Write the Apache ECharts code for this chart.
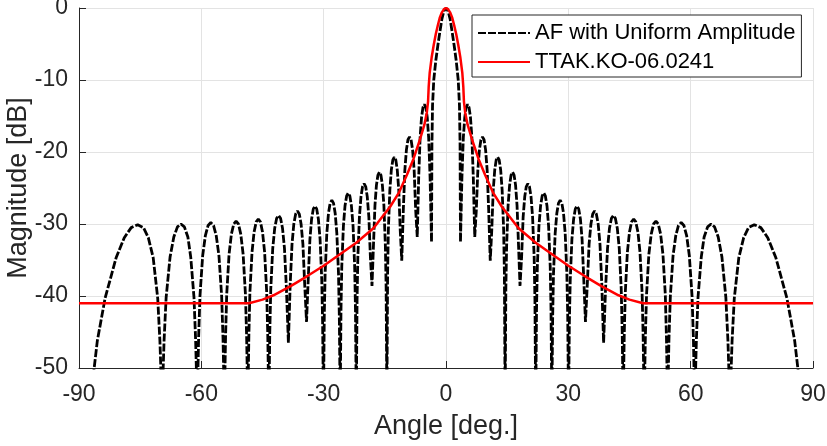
<!DOCTYPE html>
<html>
<head>
<meta charset="utf-8">
<script src="https://cdn.jsdelivr.net/npm/echarts@6/dist/echarts.min.js"></script>
<style>html,body{margin:0;padding:0;background:#fff}#c{width:827px;height:446px}</style>
</head>
<body>
<div id="c"></div>
<script>
// Ticks
const xTicks = [-90, -60, -30, 0, 30, 60, 90];
const yTicks = [-50, -40, -30, -20, -10, 0];
const seriesNames = ['AF with Uniform Amplitude', 'TTAK.KO-06.0241'];

// AF with uniform amplitude: [angle deg, magnitude dB]
const afPoints = [
[-87.1,-54],[-85.5,-46.2],[-83.6,-40.3],[-80.9,-34.7],[-78.9,-31.9],[-77.2,-30.5],[-75.6,-30.1],[-74.2,-30.5],[-73.0,-31.9],[-71.8,-34.7],[-70.7,-40.3],[-70.16,-46.2],[-69.64,-55],
[-69.13,-46.1],[-68.63,-40.2],[-67.67,-34.6],[-66.75,-31.8],[-65.86,-30.4],[-65.0,-30.0],[-64.16,-30.4],[-63.3,-31.8],[-62.6,-34.6],[-61.8,-40.2],[-61.4,-46.1],[-61.0,-55],
[-60.67,-45.9],[-60.34,-40.0],[-59.67,-34.4],[-59.01,-31.6],[-58.34,-30.2],[-57.68,-29.8],[-57.01,-30.2],[-56.35,-31.6],[-55.68,-34.4],[-55.02,-40.0],[-54.68,-45.9],[-54.35,-55],
[-54.06,-45.7],[-53.78,-39.8],[-53.2,-34.2],[-52.63,-31.4],[-52.05,-30.0],[-51.48,-29.6],[-50.9,-30.0],[-50.33,-31.4],[-49.75,-34.2],[-49.18,-39.8],[-48.89,-45.7],[-48.6,-55],
[-48.34,-45.4],[-48.09,-39.5],[-47.57,-33.9],[-47.06,-31.1],[-46.54,-29.7],[-46.03,-29.3],[-45.51,-29.7],[-45.0,-31.1],[-44.48,-33.9],[-43.97,-39.5],[-43.71,-45.4],[-43.45,-55],
[-43.21,-44.9],[-42.97,-39.0],[-42.49,-33.4],[-42.01,-30.6],[-41.53,-29.2],[-41.05,-28.8],[-40.57,-29.2],[-40.09,-30.6],[-39.61,-33.4],[-39.13,-39.0],[-38.65,-46.5],
[-38.21,-38.4],[-37.76,-32.8],[-37.32,-30.0],[-36.87,-28.6],[-36.43,-28.2],[-35.98,-28.6],[-35.54,-30.0],[-35.09,-32.8],[-34.65,-38.4],[-34.2,-43.6],
[-33.79,-37.7],[-33.37,-32.1],[-32.96,-29.3],[-32.54,-27.9],[-32.13,-27.5],[-31.71,-27.9],[-31.3,-29.3],[-30.88,-32.1],[-30.47,-37.7],[-30.26,-43.6],[-30.05,-55],
[-29.85,-42.8],[-29.64,-36.9],[-29.23,-31.3],[-28.82,-28.5],[-28.41,-27.1],[-28.0,-26.7],[-27.59,-27.1],[-27.18,-28.5],[-26.77,-31.3],[-26.36,-36.9],[-26.16,-42.8],[-25.95,-55],
[-25.75,-41.8],[-25.56,-35.9],[-25.16,-30.3],[-24.77,-27.5],[-24.37,-26.1],[-23.98,-25.7],[-23.58,-26.1],[-23.19,-27.5],[-22.79,-30.3],[-22.4,-35.9],[-22.2,-41.8],[-22.0,-55],
[-21.81,-40.5],[-21.62,-34.6],[-21.23,-29.0],[-20.85,-26.2],[-20.46,-24.8],[-20.08,-24.4],[-19.69,-24.8],[-19.31,-26.2],[-18.92,-29.0],[-18.54,-34.6],[-18.15,-38.6],
[-17.79,-33.0],[-17.42,-27.4],[-17.06,-24.6],[-16.69,-23.2],[-16.33,-22.8],[-15.96,-23.2],[-15.6,-24.6],[-15.23,-27.4],[-14.87,-33.0],[-14.68,-38.9],[-14.5,-55],
[-14.32,-36.8],[-14.14,-30.9],[-13.77,-25.3],[-13.41,-22.5],[-13.04,-21.1],[-12.68,-20.7],[-12.31,-21.1],[-11.95,-22.5],[-11.58,-25.3],[-11.22,-30.9],[-10.85,-35.1],
[-10.47,-28.1],[-10.09,-22.5],[-9.71,-19.7],[-9.33,-18.3],[-8.95,-17.9],[-8.57,-18.3],[-8.19,-19.7],[-7.81,-22.5],[-7.43,-28.1],[-7.05,-31.8],
[-6.7,-23.6],[-6.35,-18.0],[-6.0,-15.2],[-5.65,-13.8],[-5.3,-13.4],[-4.95,-13.8],[-4.6,-15.2],[-4.25,-18.0],[-3.9,-23.6],[-3.55,-32.5],
[-3.45,-19],[-3.3,-13.5],[-3.0,-10],[-2.5,-7.3],[-2.0,-5.2],[-1.5,-3.3],[-1.0,-1.5],[-0.5,-0.4],[0,0],
[0.5,-0.4],[1.0,-1.5],[1.5,-3.3],[2.0,-5.2],[2.5,-7.3],[3.0,-10],[3.3,-13.5],[3.45,-19],[3.55,-32.5],
[3.9,-23.6],[4.25,-18.0],[4.6,-15.2],[4.95,-13.8],[5.3,-13.4],[5.65,-13.8],[6.0,-15.2],[6.35,-18.0],[6.7,-23.6],[7.05,-31.8],
[7.43,-28.1],[7.81,-22.5],[8.19,-19.7],[8.57,-18.3],[8.95,-17.9],[9.33,-18.3],[9.71,-19.7],[10.09,-22.5],[10.47,-28.1],[10.85,-35.1],
[11.22,-30.9],[11.58,-25.3],[11.95,-22.5],[12.31,-21.1],[12.68,-20.7],[13.04,-21.1],[13.41,-22.5],[13.77,-25.3],[14.14,-30.9],[14.32,-36.8],[14.5,-55],
[14.68,-38.9],[14.87,-33.0],[15.23,-27.4],[15.6,-24.6],[15.96,-23.2],[16.33,-22.8],[16.69,-23.2],[17.06,-24.6],[17.42,-27.4],[17.79,-33.0],[18.15,-38.6],
[18.54,-34.6],[18.92,-29.0],[19.31,-26.2],[19.69,-24.8],[20.08,-24.4],[20.46,-24.8],[20.85,-26.2],[21.23,-29.0],[21.62,-34.6],[21.81,-40.5],[22.0,-55],
[22.2,-41.8],[22.4,-35.9],[22.79,-30.3],[23.19,-27.5],[23.58,-26.1],[23.98,-25.7],[24.37,-26.1],[24.77,-27.5],[25.16,-30.3],[25.56,-35.9],[25.75,-41.8],[25.95,-55],
[26.16,-42.8],[26.36,-36.9],[26.77,-31.3],[27.18,-28.5],[27.59,-27.1],[28.0,-26.7],[28.41,-27.1],[28.82,-28.5],[29.23,-31.3],[29.64,-36.9],[29.85,-42.8],[30.05,-55],
[30.26,-43.6],[30.47,-37.7],[30.88,-32.1],[31.3,-29.3],[31.71,-27.9],[32.13,-27.5],[32.54,-27.9],[32.96,-29.3],[33.37,-32.1],[33.79,-37.7],[34.2,-43.6],
[34.65,-38.4],[35.09,-32.8],[35.54,-30.0],[35.98,-28.6],[36.43,-28.2],[36.87,-28.6],[37.32,-30.0],[37.76,-32.8],[38.21,-38.4],[38.65,-46.5],
[39.13,-39.0],[39.61,-33.4],[40.09,-30.6],[40.57,-29.2],[41.05,-28.8],[41.53,-29.2],[42.01,-30.6],[42.49,-33.4],[42.97,-39.0],[43.21,-44.9],[43.45,-55],
[43.71,-45.4],[43.97,-39.5],[44.48,-33.9],[45.0,-31.1],[45.51,-29.7],[46.03,-29.3],[46.54,-29.7],[47.06,-31.1],[47.57,-33.9],[48.09,-39.5],[48.34,-45.4],[48.6,-55],
[48.89,-45.7],[49.18,-39.8],[49.75,-34.2],[50.33,-31.4],[50.9,-30.0],[51.48,-29.6],[52.05,-30.0],[52.63,-31.4],[53.2,-34.2],[53.78,-39.8],[54.06,-45.7],[54.35,-55],
[54.68,-45.9],[55.02,-40.0],[55.68,-34.4],[56.35,-31.6],[57.01,-30.2],[57.68,-29.8],[58.34,-30.2],[59.01,-31.6],[59.67,-34.4],[60.34,-40.0],[60.67,-45.9],[61.0,-55],
[61.4,-46.1],[61.8,-40.2],[62.6,-34.6],[63.3,-31.8],[64.16,-30.4],[65.0,-30.0],[65.86,-30.4],[66.75,-31.8],[67.67,-34.6],[68.63,-40.2],[69.13,-46.1],[69.64,-55],
[70.16,-46.2],[70.7,-40.3],[71.8,-34.7],[73.0,-31.9],[74.2,-30.5],[75.6,-30.1],[77.2,-30.5],[78.9,-31.9],[80.9,-34.7],[83.6,-40.3],[85.5,-46.2],[87.1,-54]
];

// TTAK.KO-06.0241 mask: [angle deg, magnitude dB]
const maskPoints = [
[-90,-41],[-48.3,-41],[-45,-40.5],[-42.3,-39.9],[-38,-38.6],[-34.2,-37.3],[-30,-35.8],[-26,-34.2],[-22,-32.6],[-17.8,-30.6],[-13.7,-27.6],[-11.5,-25.6],[-9.6,-23.2],[-8,-21],[-6.4,-18.3],[-5.3,-16.2],[-4.7,-14.5],[-4.4,-13],[-4.25,-11],[-4.0,-9.0],[-3.5,-6.8],[-3,-5.1],[-2.5,-3.6],[-2,-2.4],[-1.5,-1.3],[-1,-0.6],[-0.5,-0.15],[0,0],
[0.5,-0.15],[1,-0.6],[1.5,-1.3],[2,-2.4],[2.5,-3.6],[3,-5.1],[3.5,-6.8],[4.0,-9.0],[4.25,-11],[4.4,-13],[4.7,-14.5],[5.3,-16.2],[6.4,-18.3],[8,-21],[9.6,-23.2],[11.5,-25.6],[13.7,-27.6],[17.8,-30.6],[22,-32.6],[26,-34.2],[30,-35.8],[34.2,-37.3],[38,-38.6],[42.3,-39.9],[45,-40.5],[48.3,-41],[90,-41]
];

const FONT = '"Liberation Sans", Arial, Helvetica, sans-serif';
const AX = '#262626';
const chart = echarts.init(document.getElementById('c'), null, {renderer: 'canvas'});
chart.setOption({
  animation: false,
  backgroundColor: '#ffffff',
  grid: {left: 79, right: 14, top: 8, bottom: 78, containLabel: false, outerBoundsMode: 'none'},
  legend: {
    orient: 'vertical', left: 472, top: 15,
    padding: [6, 6, 3, 5], itemGap: 5, itemWidth: 52, itemHeight: 14,
    backgroundColor: '#ffffff', borderColor: AX, borderWidth: 1, borderRadius: 0,
    itemStyle: {opacity: 0},
    textStyle: {fontFamily: FONT, fontSize: 22, color: '#000', lineHeight: 24},
    data: seriesNames
  },
  xAxis: {
    type: 'value', min: xTicks[0], max: xTicks[xTicks.length - 1], interval: 30,
    name: 'Angle [deg.]', nameLocation: 'middle', nameGap: 45, nameMoveOverlap: false,
    nameTextStyle: {fontFamily: FONT, fontSize: 27, color: AX},
    axisLine: {show: true, onZero: false, lineStyle: {color: AX, width: 1}},
    axisTick: {show: true, inside: true, length: 7, lineStyle: {color: AX}},
    axisLabel: {fontFamily: FONT, fontSize: 23, color: AX, margin: 15},
    splitLine: {show: true, lineStyle: {color: '#e3e3e3', width: 1}}
  },
  yAxis: {
    type: 'value', min: yTicks[0], max: yTicks[yTicks.length - 1], interval: 10,
    name: 'Magnitude [dB]', nameLocation: 'middle', nameGap: 47, nameMoveOverlap: false,
    nameTextStyle: {fontFamily: FONT, fontSize: 27, color: AX},
    axisLine: {show: true, onZero: false, lineStyle: {color: AX, width: 1}},
    axisTick: {show: true, inside: true, length: 7, lineStyle: {color: AX}},
    axisLabel: {fontFamily: FONT, fontSize: 23, color: AX, margin: 11},
    splitLine: {show: true, lineStyle: {color: '#e3e3e3', width: 1}}
  },
  series: [
    {
      name: seriesNames[0], type: 'line', data: afPoints, symbol: 'none', showSymbol: false,
      clip: true, z: 2,
      lineStyle: {color: '#000000', width: 2.8, type: [8, 2]},
      itemStyle: {color: '#000000'}
    },
    {
      name: seriesNames[1], type: 'line', data: maskPoints, symbol: 'none', showSymbol: false,
      clip: true, z: 3,
      lineStyle: {color: '#ff0000', width: 2.5, type: 'solid'},
      itemStyle: {color: '#ff0000'}
    }
  ]
});
</script>
</body>
</html>
